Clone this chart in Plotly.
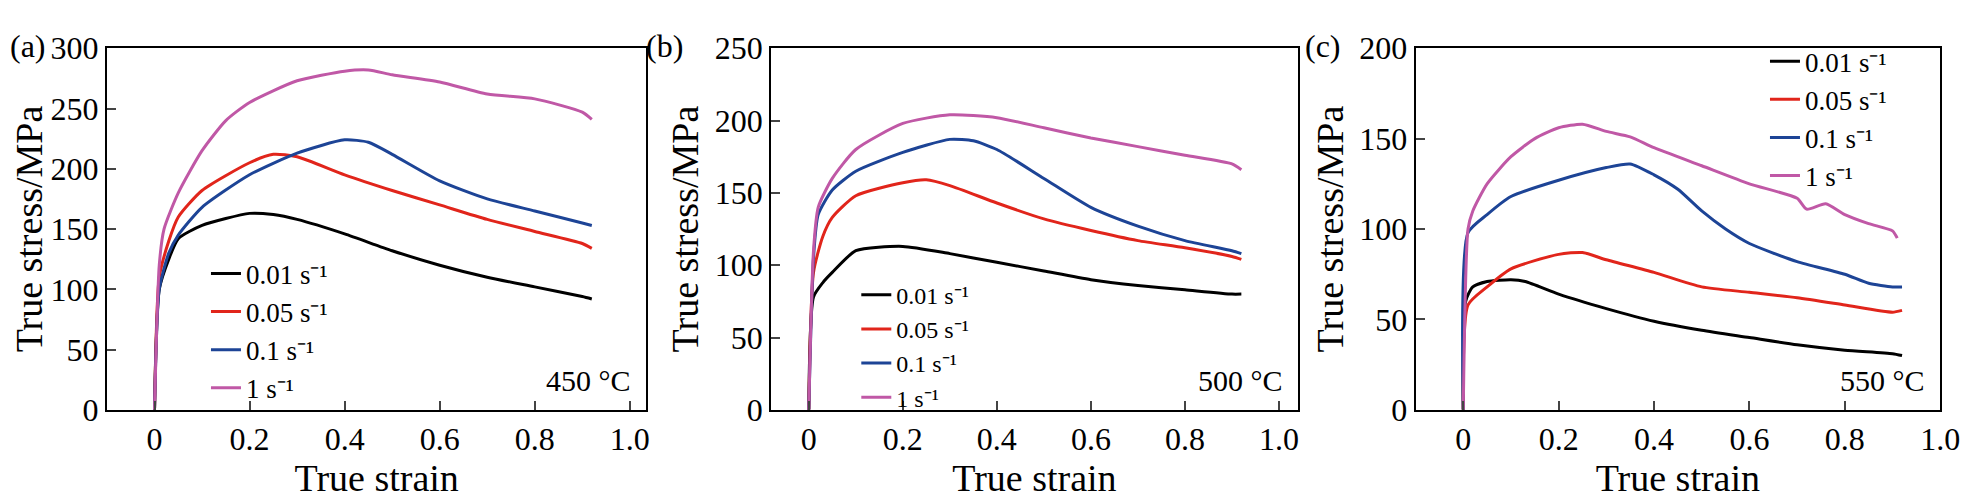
import plotly.graph_objects as go

rates = ["0.01", "0.05", "0.1", "1"]
colors = ["#000000", "#e1251b", "#1d4496", "#c058a6"]

# Panel (a) 450 °C
a_x = {
 "1":    [0, 0.01, 0.02, 0.05, 0.1, 0.15, 0.2, 0.3, 0.4, 0.45, 0.5, 0.6, 0.7, 0.8, 0.9, 0.92],
 "0.1":  [0, 0.01, 0.03, 0.05, 0.1, 0.2, 0.3, 0.4, 0.45, 0.5, 0.6, 0.7, 0.8, 0.9, 0.92],
 "0.05": [0, 0.01, 0.03, 0.05, 0.1, 0.2, 0.25, 0.3, 0.4, 0.5, 0.6, 0.7, 0.8, 0.9, 0.92],
 "0.01": [0, 0.01, 0.03, 0.05, 0.1, 0.2, 0.25, 0.3, 0.4, 0.5, 0.6, 0.7, 0.8, 0.9, 0.92],
}
a_y = {
 "1":    [0, 120, 150, 180, 215, 240, 255, 273, 281, 282, 278, 272, 262, 258, 247, 241],
 "0.1":  [0, 100, 130, 145, 168, 195, 213, 224, 222, 212, 190, 175, 165, 155, 153],
 "0.05": [0, 110, 140, 160, 182, 205, 212, 210, 195, 182, 170, 158, 148, 138, 134],
 "0.01": [0, 100, 125, 142, 153, 163, 162, 158, 146, 132, 120, 110, 102, 94, 92],
}
# Panel (b) 500 °C
b_x = {
 "1":    [0, 0.01, 0.02, 0.05, 0.1, 0.2, 0.3, 0.4, 0.5, 0.6, 0.7, 0.8, 0.9, 0.92],
 "0.1":  [0, 0.01, 0.02, 0.05, 0.1, 0.2, 0.3, 0.35, 0.4, 0.5, 0.6, 0.7, 0.8, 0.9, 0.92],
 "0.05": [0, 0.01, 0.03, 0.05, 0.1, 0.2, 0.25, 0.3, 0.4, 0.5, 0.6, 0.7, 0.8, 0.9, 0.92],
 "0.01": [0, 0.01, 0.03, 0.05, 0.1, 0.2, 0.3, 0.4, 0.5, 0.6, 0.7, 0.8, 0.9, 0.92],
}
b_y = {
 "1":    [0, 110, 140, 160, 180, 198, 204, 202, 195, 188, 182, 176, 170, 166],
 "0.1":  [0, 105, 135, 152, 165, 178, 187, 186, 180, 160, 140, 127, 117, 110, 108],
 "0.05": [0, 95, 120, 133, 148, 157, 159, 155, 143, 132, 124, 117, 112, 106, 104],
 "0.01": [0, 78, 88, 95, 110, 113, 108, 102, 96, 90, 86, 83, 80, 80],
}
# Panel (c) 550 °C
c_x = {
 "1":    [0, 0.01, 0.02, 0.05, 0.1, 0.15, 0.2, 0.25, 0.3, 0.35, 0.4, 0.5, 0.6, 0.7, 0.72, 0.76, 0.8, 0.85, 0.9, 0.91],
 "0.1":  [0, 0.01, 0.05, 0.1, 0.2, 0.3, 0.35, 0.4, 0.45, 0.5, 0.55, 0.6, 0.7, 0.8, 0.85, 0.9, 0.92],
 "0.05": [0, 0.01, 0.05, 0.1, 0.2, 0.25, 0.3, 0.4, 0.5, 0.6, 0.7, 0.8, 0.9, 0.92],
 "0.01": [0, 0.005, 0.02, 0.05, 0.1, 0.13, 0.2, 0.3, 0.4, 0.5, 0.6, 0.7, 0.8, 0.9, 0.92],
}
c_y = {
 "1":    [0, 100, 110, 125, 140, 150, 156, 158, 154, 151, 145, 135, 125, 117, 111, 114, 108, 103, 99, 95],
 "0.1":  [0, 98, 108, 118, 127, 134, 136, 130, 122, 110, 100, 92, 82, 75, 70, 68, 68],
 "0.05": [0, 58, 68, 78, 86, 87, 83, 76, 68, 65, 62, 58, 54, 55],
 "0.01": [0, 60, 68, 71, 72, 71, 64, 56, 49, 44, 40, 36, 33, 31, 30],
}
panels = [(a_x, a_y), (b_x, b_y), (c_x, c_y)]
temps = ["450 °C", "500 °C", "550 °C"]
letters = ["(a)", "(b)", "(c)"]
ymax = [300, 250, 200]

FONT = "Liberation Serif"
W, H = 1970, 494
xdom = [[100/W, 645/W], [771/W, 1303/W], [1422/W, 1952/W]]
ydom = [80/H, 470/H]
xr = [[-0.1, 1.035], [-0.08, 1.04], [-0.1, 1.0]]
# (x, top y, font size)
legpos = [(200/W, 1-241/H, 27), (857/W, 1-266/H, 24), (1775/W, 1-12/H, 27)]
legnames = ["legend", "legend2", "legend3"]

fig = go.Figure()
for p, (px, py) in enumerate(panels):
    for r, c in zip(rates, colors):
        fig.add_trace(go.Scatter(
            x=px[r], y=py[r], mode="lines", line=dict(color=c, width=3, shape="spline", smoothing=0.6),
            name=f"{r} s⁻¹", legend=legnames[p],
            xaxis="x" if p == 0 else f"x{p+1}", yaxis="y" if p == 0 else f"y{p+1}"))

layout = dict(width=W, height=H, margin=dict(l=0, r=0, t=0, b=0), paper_bgcolor="white",
              plot_bgcolor="white", font=dict(family=FONT, size=32, color="black"), annotations=[])
for p in range(3):
    sx = "" if p == 0 else str(p+1)
    layout[f"xaxis{sx}"] = dict(domain=xdom[p], range=xr[p], anchor=f"y{sx}",
        tickvals=[0, 0.2, 0.4, 0.6, 0.8, 1.0], ticktext=["0", "0.2", "0.4", "0.6", "0.8", "1.0"],
        ticks="inside", ticklen=9, tickwidth=2, showline=True, linewidth=2, linecolor="black",
        mirror=True, showgrid=False, zeroline=False,
        title=dict(text="True strain", standoff=0),
        tickfont=dict(size=32))
    layout[f"yaxis{sx}"] = dict(domain=ydom, range=[0, ymax[p]], anchor=f"x{sx}", dtick=50,
        ticks="inside", ticklen=9, tickwidth=2, showline=True, linewidth=2, linecolor="black",
        mirror=True, showgrid=False, zeroline=False, title=dict(text="True stress/MPa", standoff=4),
        tickfont=dict(size=32))
    lx, ly, fs = legpos[p]
    layout[legnames[p]] = dict(x=lx, y=ly, xanchor="left", yanchor="top", bgcolor="rgba(0,0,0,0)",
        font=dict(size=fs), tracegroupgap=0, itemwidth=30)
    layout["annotations"].append(dict(text=temps[p], xref=f"x{sx} domain", yref=f"y{sx} domain",
        x=0.975, y=0.03, xanchor="right", yanchor="bottom", showarrow=False, font=dict(size=30)))
    layout["annotations"].append(dict(text=letters[p], xref="paper", yref="paper",
        x=[0, 643/W, 1308/W][p], y=1, xanchor="left", yanchor="top", showarrow=False,
        font=dict(size=32)))
fig.update_layout(**layout)
fig.write_html("out.html")
